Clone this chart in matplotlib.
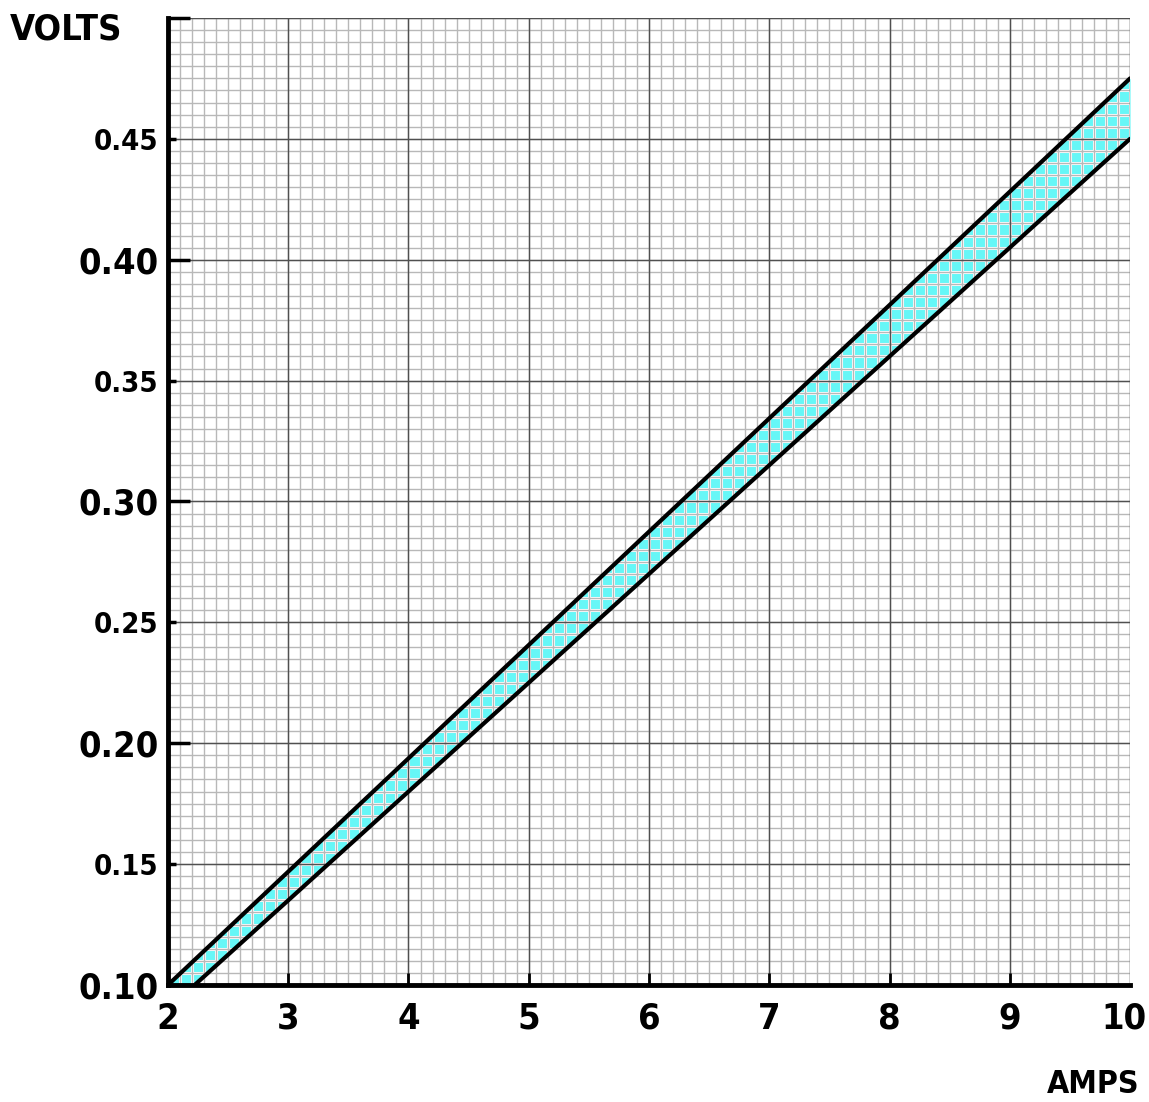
import numpy as np
import matplotlib
matplotlib.use('Agg')
import matplotlib.pyplot as plt
import matplotlib.transforms as mtransforms
from matplotlib.ticker import FixedLocator, FixedFormatter

# ==================== 数据 ====================
amps_upper = [2.0, 10.0]
volts_upper = [0.10, 0.475]
amps_lower = [2.222, 10.0]
volts_lower = [0.10, 0.45]

x_ticks = [2, 3, 4, 5, 6, 7, 8, 9, 10]
x_labels = ['2', '3', '4', '5', '6', '7', '8', '9', '10']
y_major = [0.10, 0.20, 0.30, 0.40, 0.50]
y_major_labels = ['0.10', '0.20', '0.30', '0.40', '']
y_minor = [0.15, 0.25, 0.35, 0.45]
y_minor_labels = ['0.15', '0.25', '0.35', '0.45']

# 窄体粗字
plt.rcParams['font.family'] = ['DejaVu Sans']
plt.rcParams['font.weight'] = 'bold'
plt.rcParams['font.stretch'] = 'condensed'

fig = plt.figure(figsize=(11.49, 11.02), dpi=100)
ax = fig.add_axes([0.1462, 0.1062, 0.9835 - 0.1462, 0.9837 - 0.1062])
ax.set_xlim(2, 10)
ax.set_ylim(0.10, 0.50)

# 坐标纸网格
gx = np.arange(2, 10.001, 0.1)
gy = np.arange(0.10, 0.5001, 0.005)
ax.vlines(gx, 0.10, 0.50, color='white', lw=2.2, zorder=2)
ax.hlines(gy, 2, 10, color='white', lw=2.2, zorder=2)
ax.vlines(gx, 0.10, 0.50, color='#b8b8b8', lw=1.0, zorder=3)
ax.hlines(gy, 2, 10, color='#b8b8b8', lw=1.0, zorder=3)
ax.vlines(x_ticks, 0.10, 0.50, color='#505050', lw=1.0, zorder=3)
ax.hlines(np.arange(0.10, 0.5001, 0.05), 2, 10, color='#505050', lw=1.0, zorder=3)

# 误差带
band_x = np.array([amps_upper[0], amps_lower[0], amps_upper[1]])
band_hi = np.interp(band_x, amps_upper, volts_upper)
band_lo = np.interp(band_x, amps_lower, volts_lower, left=0.10)
ax.fill_between(band_x, band_lo, band_hi, color='#66f7f7', lw=0, zorder=1)

ax.plot(amps_upper, volts_upper, color='black', lw=3, zorder=4, solid_capstyle='round')
ax.plot(amps_lower, volts_lower, color='black', lw=3, zorder=4, solid_capstyle='round')

# 坐标轴
for s in ['top', 'right']:
    ax.spines[s].set_visible(False)
for s in ['left', 'bottom']:
    ax.spines[s].set_linewidth(3.5)
    ax.spines[s].set_zorder(6)
ax.xaxis.set_zorder(5)
ax.yaxis.set_zorder(5)

ax.set_xticks(x_ticks)
ax.set_xticklabels(x_labels)
ax.xaxis.get_major_ticks()[-1].tick1line.set_visible(False)
ax.yaxis.set_major_locator(FixedLocator(y_major))
ax.yaxis.set_major_formatter(FixedFormatter(y_major_labels))
ax.yaxis.set_minor_locator(FixedLocator(y_minor))
ax.yaxis.set_minor_formatter(FixedFormatter(y_minor_labels))

ax.tick_params(axis='x', which='major', direction='in', length=9, width=2,
               labelsize=26, pad=12)
ax.tick_params(axis='y', which='major', direction='in', length=16, width=2.5,
               labelsize=26, pad=7)
ax.tick_params(axis='y', which='minor', direction='in', length=6, width=2.5,
               labelsize=21, pad=7)
for lab in ax.get_xticklabels() + ax.get_yticklabels() + ax.get_yticklabels(minor=True):
    lab.set_fontweight('bold')

# 最右的 "10" 稍向左挪，免得出界
last = ax.xaxis.get_major_ticks()[-1].label1
last.set_transform(last.get_transform() +
                   mtransforms.ScaledTranslation(-6 / 100, 0, fig.dpi_scale_trans))

fig.text(0.009, 0.973, 'VOLTS', fontsize=26, fontweight='bold', ha='left', va='center')
fig.text(0.992, 0.016, 'AMPS', fontsize=23, fontweight='bold', ha='right', va='center')

fig.savefig('out.png', dpi=100)
